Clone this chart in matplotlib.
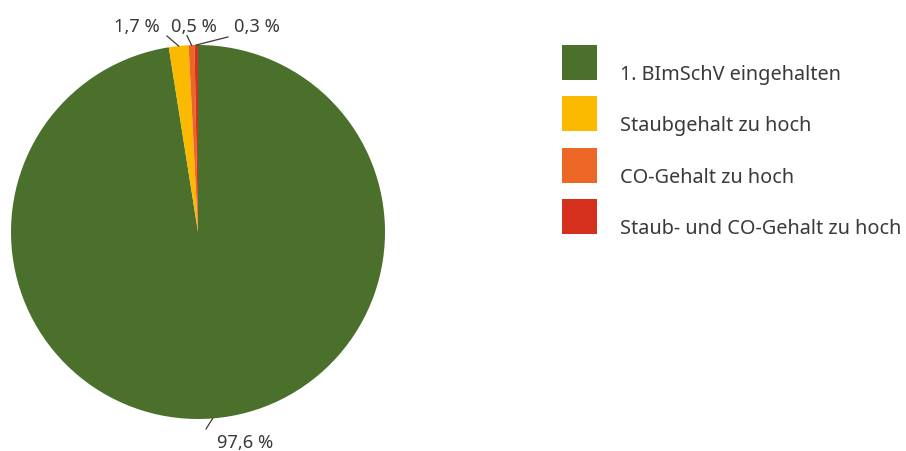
import numpy as np
import matplotlib
matplotlib.use("Agg")
import matplotlib.pyplot as plt
from matplotlib.patches import Rectangle

categories = ["1. BImSchV eingehalten", "Staubgehalt zu hoch",
              "CO-Gehalt zu hoch", "Staub- und CO-Gehalt zu hoch"]
shares = [97.6, 1.7, 0.5, 0.3]
pct_labels = ["97,6 %", "1,7 %", "0,5 %", "0,3 %"]
colors = ["#4a702b", "#fbb900", "#ec6625", "#d5301e"]

# label text positions and leader-line ends (pie data units, radius = 1)
label_pos = [(0.25, -1.125), (-0.329, 1.10), (-0.024, 1.10), (0.313, 1.10)]
leader_end = [(0.043, -1.053), (-0.166, 1.048), (-0.059, 1.05), (0.160, 1.043)]

plt.rcParams['font.family'] = ['Noto Sans', 'DejaVu Sans']
text_color = "#3a3a3a"

W, H = 906, 452
fig = plt.figure(figsize=(W / 100, H / 100), dpi=100)

# pie axes: centre (198, 233) px, radius 187 px
r_px = 187
lim = 1.3
size = 2 * lim * r_px
cx, cy = 198, H - 233
ax = fig.add_axes([(cx - size / 2) / W, (cy - size / 2) / H, size / W, size / H])
wedges, _ = ax.pie(shares, colors=colors, startangle=90, counterclock=False,
                   wedgeprops=dict(linewidth=0))
ax.set_xlim(-lim, lim)
ax.set_ylim(-lim, lim)
ax.set_aspect("equal")
ax.axis("off")

for w, lab, pos, end in zip(wedges, pct_labels, label_pos, leader_end):
    ang = np.deg2rad((w.theta1 + w.theta2) / 2)
    x0, y0 = np.cos(ang), np.sin(ang)
    ax.plot([x0, end[0]], [y0, end[1]], color=text_color, lw=0.9, clip_on=False)
    ax.text(pos[0], pos[1], lab, ha="center", va="center", fontsize=13.2,
            color=text_color, clip_on=False)

# legend
sq = 35
for i, (name, c) in enumerate(zip(categories, colors)):
    top = 46 + i * 51.3
    fig.patches.append(Rectangle((562 / W, (H - top - sq) / H), sq / W, sq / H,
                                 transform=fig.transFigure, facecolor=c,
                                 edgecolor="none"))
    fig.text(620 / W, (H - top - 29) / H, name, ha="left", va="center",
             fontsize=14.3, color=text_color)

fig.savefig("out.png", dpi=100)
